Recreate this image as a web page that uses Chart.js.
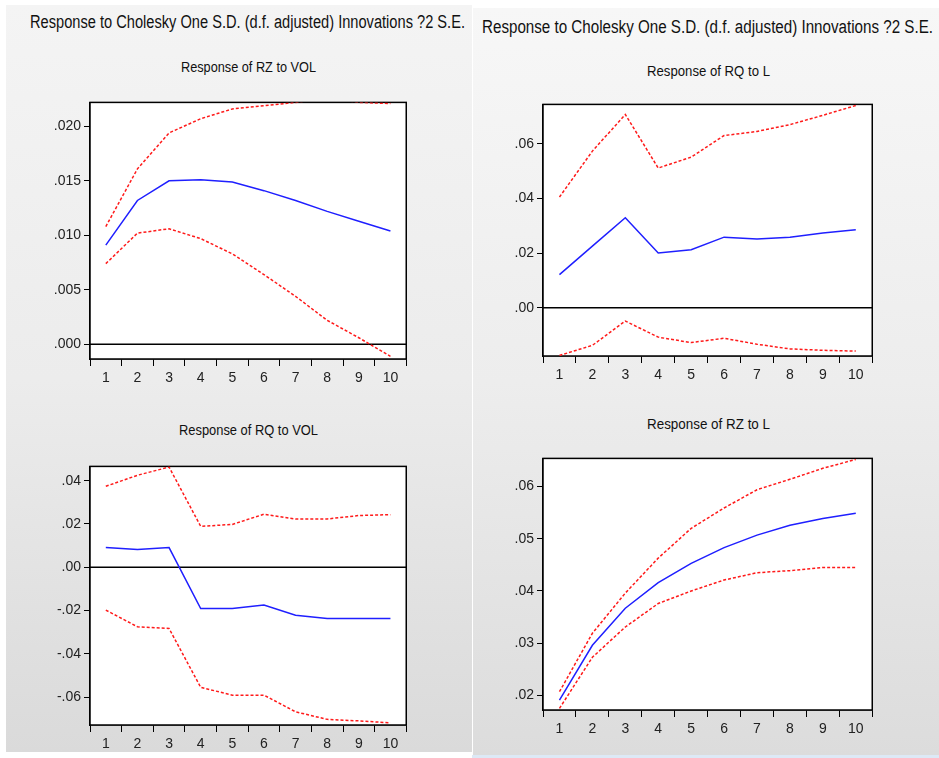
<!DOCTYPE html>
<html><head><meta charset="utf-8">
<script src="https://cdn.jsdelivr.net/npm/chart.js@4"></script>
<style>
html,body{margin:0;padding:0;background:#fff;width:939px;height:758px;overflow:hidden;position:relative}
.bg{position:absolute}
.t{position:absolute;white-space:nowrap;font-family:"Liberation Sans",Arial,sans-serif;color:#111;transform-origin:0 0;line-height:1}
canvas{position:absolute}
</style></head><body>
<div class="bg" style="left:6px;top:5px;width:466px;height:747px;background:linear-gradient(#f4f4f4,#ececec 50%,#dadada)"></div>
<div class="bg" style="left:473px;top:8px;width:466px;height:747px;background:linear-gradient(#f7f7f7,#ededed 50%,#dcdcdc)"></div>
<div class="bg" style="left:472px;top:755px;width:467px;height:3px;background:#dde9f6"></div>

<div class="t" data-l="30" data-w="435" data-base="28.5" data-size="18">Response to Cholesky One S.D. (d.f. adjusted) Innovations ?2 S.E.</div>
<div class="t" data-l="482" data-w="451" data-base="33" data-size="18">Response to Cholesky One S.D. (d.f. adjusted) Innovations ?2 S.E.</div>
<div class="t" data-c="248" data-w="135" data-base="72" data-size="14">Response of RZ to VOL</div>
<div class="t" data-c="708" data-w="123" data-base="76" data-size="14">Response of RQ to L</div>
<div class="t" data-c="248" data-w="139" data-base="435" data-size="14">Response of RQ to VOL</div>
<div class="t" data-c="708" data-w="123" data-base="428.5" data-size="14">Response of RZ to L</div>

<canvas id="c1"></canvas>
<canvas id="c2"></canvas>
<canvas id="c3"></canvas>
<canvas id="c4"></canvas>
<script>
const periods = ['1','2','3','4','5','6','7','8','9','10'];

// Response of RZ to VOL
const rzVolResp  = [0.0091, 0.0132, 0.0150, 0.0151, 0.0149, 0.0141, 0.0132, 0.0122, 0.0113, 0.0104];
const rzVolUpper = [0.0108, 0.0161, 0.0194, 0.0207, 0.0216, 0.0219, 0.0222, 0.0226, 0.0222, 0.0221];
const rzVolLower = [0.0074, 0.0102, 0.0106, 0.0097, 0.0083, 0.0064, 0.0044, 0.0022, 0.0006, -0.0011];
const rzVolTicks = [0.000, 0.005, 0.010, 0.015, 0.020];

// Response of RQ to L
const rqLResp  = [0.0121, 0.0225, 0.0329, 0.0200, 0.0212, 0.0258, 0.0251, 0.0258, 0.0273, 0.0285];
const rqLUpper = [0.0405, 0.0573, 0.0707, 0.0511, 0.0551, 0.0630, 0.0645, 0.0670, 0.0704, 0.0740];
const rqLLower = [-0.0175, -0.0138, -0.0049, -0.0108, -0.0128, -0.0112, -0.0134, -0.0151, -0.0156, -0.0159];
const rqLTicks = [0.00, 0.02, 0.04, 0.06];

// Response of RQ to VOL
const rqVolResp  = [0.0091, 0.0082, 0.0091, -0.0191, -0.0191, -0.0175, -0.0222, -0.0237, -0.0237, -0.0237];
const rqVolUpper = [0.0374, 0.0425, 0.0463, 0.0189, 0.0198, 0.0245, 0.0223, 0.0223, 0.0239, 0.0243];
const rqVolLower = [-0.0198, -0.0275, -0.0283, -0.0555, -0.0591, -0.0591, -0.0668, -0.0703, -0.0710, -0.0719];
const rqVolTicks = [-0.06, -0.04, -0.02, 0.00, 0.02, 0.04];

// Response of RZ to L
const rzLResp  = [0.0191, 0.0296, 0.0367, 0.0416, 0.0453, 0.0483, 0.0507, 0.0526, 0.0539, 0.0549];
const rzLUpper = [0.0207, 0.0319, 0.0396, 0.0463, 0.0520, 0.0559, 0.0594, 0.0614, 0.0635, 0.0652];
const rzLLower = [0.0175, 0.0273, 0.0331, 0.0376, 0.0400, 0.0421, 0.0435, 0.0439, 0.0445, 0.0445];
const rzLTicks = [0.02, 0.03, 0.04, 0.05, 0.06];

// titles
document.querySelectorAll('.t').forEach(el => {
  const size = +el.dataset.size;
  el.style.fontSize = size + 'px';
  const nat = el.getBoundingClientRect().width;
  const s = (+el.dataset.w) / nat;
  const left = el.dataset.l !== undefined ? +el.dataset.l : (+el.dataset.c - el.dataset.w / 2);
  el.style.left = left + 'px';
  el.style.top = (+el.dataset.base - 0.8465 * size) + 'px';
  el.style.transform = 'scaleX(' + s + ')';
});

const FONT = '"Liberation Sans",Arial,sans-serif';
const YW = 60, XH = 30;

const framePlugin = {
  id: 'frame',
  beforeDatasetsDraw(chart) {
    const {ctx, chartArea: a, scales: {y}} = chart;
    ctx.save();
    ctx.fillStyle = '#fff';
    ctx.fillRect(a.left, a.top, a.right - a.left, a.bottom - a.top);
    ctx.strokeStyle = '#000';
    if (y.min <= 0 && y.max >= 0) {
      const py = y.getPixelForValue(0);
      ctx.lineWidth = 1.5;
      ctx.beginPath(); ctx.moveTo(a.left, py); ctx.lineTo(a.right, py); ctx.stroke();
    }
    ctx.lineWidth = 1.5;
    ctx.strokeRect(a.left, a.top, a.right - a.left, a.bottom - a.top);
    ctx.restore();
  }
};

function fmt(v, d) {
  let s = Math.abs(v).toFixed(d).replace(/^0/, '');
  return (v < -1e-12 ? '-' : '') + s;
}

function makeChart(id, box, resp, upper, lower, ticks, ymin, ymax, dec) {
  const cv = document.getElementById(id);
  let w = box.r - box.l + YW + 10, h = box.b - box.t + XH + 10;
  cv.width = w; cv.height = h;
  cv.style.width = w + 'px'; cv.style.height = h + 'px';
  const band = (data) => ({data, borderColor: '#ff1a1a', borderWidth: 1.5, borderDash: [3, 2], pointRadius: 0, tension: 0, fill: false});
  const chart = new Chart(cv, {
    type: 'line',
    data: {
      labels: periods,
      datasets: [
        {data: resp, borderColor: '#1f1fff', borderWidth: 1.5, pointRadius: 0, tension: 0, fill: false},
        band(upper), band(lower)
      ]
    },
    options: {
      responsive: false, maintainAspectRatio: false, animation: false, devicePixelRatio: 1,
      layout: {padding: 0},
      plugins: {legend: {display: false}, tooltip: {enabled: false}, title: {display: false}},
      scales: {
        x: {
          type: 'category', offset: true,
          grid: {offset: true, drawOnChartArea: false, drawTicks: true, tickLength: 7, color: '#000', lineWidth: 1},
          border: {display: true, color: '#000', width: 1.5},
          ticks: {color: '#222', font: {family: FONT, size: 14}, padding: 4, maxRotation: 0, autoSkip: false},
          afterFit(s) { s.height = XH; }
        },
        y: {
          type: 'linear', min: ymin, max: ymax,
          afterBuildTicks(s) { s.ticks = ticks.map(v => ({value: v})); },
          grid: {drawOnChartArea: false, drawTicks: true, tickLength: 6, color: '#000', lineWidth: 1},
          border: {display: true, color: '#000', width: 1.5},
          ticks: {color: '#222', font: {family: FONT, size: 14}, padding: 3, callback: v => fmt(v, dec)},
          afterFit(s) { s.width = YW; }
        }
      }
    },
    plugins: [framePlugin]
  });
  // align the chart area with the target frame
  for (let i = 0; i < 3; i++) {
    const a = chart.chartArea;
    const nw = Math.round(w + (box.r - box.l) - (a.right - a.left));
    const nh = Math.round(h + (box.b - box.t) - (a.bottom - a.top));
    if (nw !== w || nh !== h) { w = nw; h = nh; chart.resize(w, h); }
  }
  const a = chart.chartArea;
  cv.style.left = (box.l - a.left) + 'px';
  cv.style.top = (box.t - a.top) + 'px';
}

makeChart('c1', {l: 90, r: 406, t: 102, b: 359}, rzVolResp, rzVolUpper, rzVolLower, rzVolTicks, -0.00135, 0.0222, 3);
makeChart('c2', {l: 543, r: 872, t: 104, b: 356}, rqLResp, rqLUpper, rqLLower, rqLTicks, -0.0177, 0.0744, 2);
makeChart('c3', {l: 90, r: 406, t: 466, b: 725}, rqVolResp, rqVolUpper, rqVolLower, rqVolTicks, -0.0729, 0.0466, 2);
makeChart('c4', {l: 543, r: 872, t: 458, b: 710}, rzLResp, rzLUpper, rzLLower, rzLTicks, 0.0172, 0.0654, 2);
</script>
</body></html>
